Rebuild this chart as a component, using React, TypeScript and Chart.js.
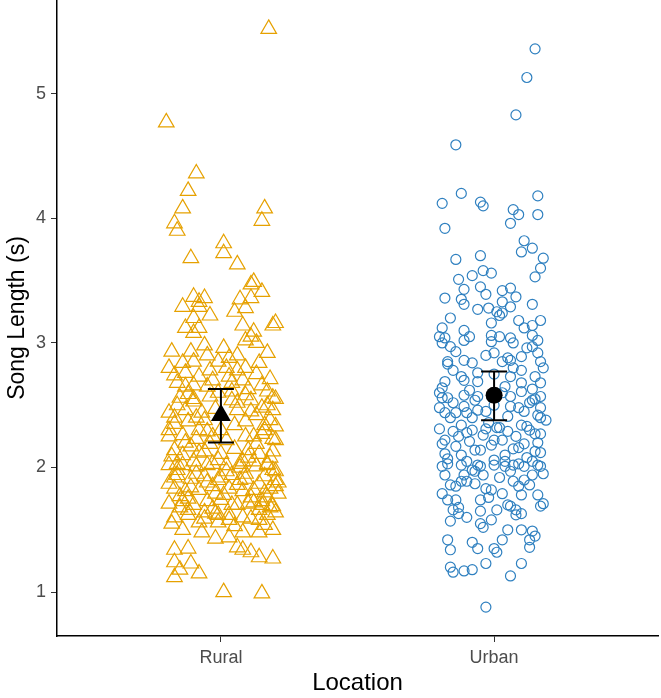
import { useEffect, useRef } from "react";
import { Chart, registerables } from "chart.js";

Chart.register(...registerables);

// Groups along the x axis
const categories = ["Rural", "Urban"];
const yTicks = [1, 2, 3, 4, 5];

// Rural song lengths (s) and their horizontal jitter offsets
const ruralSong = [
  5.52, 4.77, 4.36, 4.22, 4.08, 4.08, 3.98, 3.96, 3.9, 3.8, 3.72, 3.68, 3.63, 3.49, 3.47, 3.41, 3.37, 3.36, 3.33, 3.35,
  3.36, 3.29, 3.29, 3.28, 3.25, 3.22, 3.2, 3.16, 3.14, 3.12, 3.12, 3.14, 3.09, 3.08, 3.05, 3.02, 3.0,
  2.93, 2.93, 2.9, 2.96, 2.88, 2.9, 2.92,
  2.84, 2.85, 2.85, 2.78, 2.8,
  2.74, 2.76, 2.73, 2.7, 2.73, 2.7,
  2.68, 2.66, 2.65, 2.61, 2.66, 2.61,
  2.56, 2.53, 2.57, 2.54, 2.54, 2.56,
  2.44, 2.46, 2.44, 2.46, 2.45, 2.48, 2.46,
  2.35, 2.37, 2.38, 2.34, 2.37, 2.34, 2.33,
  2.25, 2.26, 2.23, 2.25, 2.22, 2.25, 2.27, 2.23,
  2.14, 2.17, 2.13, 2.11, 2.15, 2.14, 2.11,
  2.03, 2.05, 2.02, 2.06, 2.03, 2.05, 2.02,
  2.02, 2.01, 2.03, 2.02, 2.05, 2.01, 2.03,
  1.94, 1.91, 1.93, 1.9, 1.94, 1.91, 1.93, 1.9,
  1.83, 1.81, 1.82, 1.79, 1.83, 1.81, 1.82, 1.83, 1.79,
  1.71, 1.73, 1.7, 1.73, 1.74, 1.7, 1.71, 1.73, 1.69,
  1.6, 1.62, 1.59, 1.63, 1.58, 1.6, 1.59, 1.62,
  1.5, 1.56, 1.56, 1.48, 1.43, 1.44, 1.48, 1.48, 1.5,
  1.35, 1.34, 1.36, 1.34, 1.32, 1.28, 1.27,
  1.24, 1.23, 1.18, 1.15, 1.12, 1.0, 0.99,
  2.09, 2.2, 2.19, 2.19, 2.08, 1.98, 1.97, 1.87, 1.87, 1.88, 1.86, 1.76, 1.77, 1.78, 1.76, 1.66, 1.66, 1.64, 1.67, 1.53,
  1.55, 1.54, 2.4, 2.3, 2.42, 2.5, 2.5, 2.6, 2.63, 2.59, 2.71, 2.8, 2.8, 2.84, 2.98, 2.25, 2.3, 2.13, 2.1, 2.0,
  1.95, 1.97, 1.7, 1.62, 1.85, 1.95, 1.84, 1.7, 2.38, 2.47,
  1.98, 1.88, 1.8, 1.72, 1.68, 1.92, 2.02, 1.75, 1.64, 1.62, 1.9, 1.85, 2.08, 2.12, 2.3, 2.4, 2.55, 2.52, 2.55, 2.65,
  2.68, 2.75, 2.78, 2.58, 2.3, 2.22, 2.29, 1.58, 1.68, 1.92,
];
const ruralJitter = [
  0.175, -0.2, -0.09, -0.12, -0.14, 0.16, 0.15, -0.17, -0.16, 0.01, 0.01, -0.11, 0.06, 0.12, 0.11, 0.15, -0.1, -0.06, -0.08, 0.07,
  0.11, -0.14, -0.08, 0.09, 0.05, -0.04, -0.1, 0.2, 0.19, -0.13, -0.08, 0.08, 0.12, -0.1, 0.11, 0.09, 0.13,
  -0.18, -0.11, -0.05, 0.01, 0.03, 0.06, 0.17,
  -0.14, -0.1, -0.01, 0.06, 0.09,
  -0.17, -0.13, -0.08, -0.03, 0.03, 0.08,
  -0.16, -0.1, -0.05, 0.04, 0.15, 0.17,
  -0.15, -0.1, -0.04, 0.04, 0.11, 0.19,
  -0.19, -0.13, -0.07, 0.06, 0.11, 0.15, 0.19,
  -0.17, -0.12, -0.06, 0.05, 0.09, 0.16, 0.2,
  -0.19, -0.14, -0.09, -0.03, 0.02, 0.09, 0.15, 0.19,
  -0.17, -0.11, -0.06, 0.0, 0.05, 0.1, 0.14,
  -0.16, -0.1, -0.05, -0.01, 0.07, 0.12, 0.17,
  -0.19, -0.09, -0.03, 0.02, 0.08, 0.13, 0.17,
  -0.16, -0.11, -0.06, -0.01, 0.04, 0.09, 0.16, 0.2,
  -0.17, -0.13, -0.08, -0.02, 0.03, 0.08, 0.12, 0.18, 0.21,
  -0.19, -0.14, -0.1, -0.05, 0.0, 0.06, 0.1, 0.15, 0.19,
  -0.17, -0.12, -0.06, -0.02, 0.03, 0.08, 0.11, 0.17,
  -0.14, -0.08, -0.01, -0.07, -0.02, 0.03, 0.08, 0.14, 0.19,
  -0.12, -0.17, 0.06, 0.08, 0.11, 0.14, 0.19,
  -0.17, -0.11, -0.15, -0.08, -0.17, 0.01, 0.15,
  -0.18, -0.13, -0.04, 0.13, 0.18, -0.16, 0.2, 0.14, -0.19, -0.05, 0.06, 0.17, -0.15, 0.01, 0.11, -0.12, 0.14, 0.2, -0.03, 0.05,
  -0.18, 0.16, -0.09, 0.0, 0.13, 0.17, -0.16, -0.01, 0.1, -0.12, 0.18, -0.19, 0.02, 0.14, -0.06, 0.12, -0.08, 0.19, -0.14, 0.07,
  -0.09, 0.02, 0.15, -0.01, 0.2, 0.09, -0.11, 0.04, 0.18, -0.02,
  0.19, 0.21, 0.16, 0.12, 0.18, -0.17, -0.14, -0.12, -0.06, 0.03, 0.07, -0.03, 0.1, -0.08, 0.16, -0.17, -0.1, 0.06, 0.2, -0.13,
  0.04, 0.13, -0.04, 0.09, -0.19, 0.2, -0.05, 0.14, -0.15, 0.0,
];

// Urban song lengths (s) and their horizontal jitter offsets
const urbanSong = [
  5.36, 5.13, 4.83, 4.59, 4.2, 4.18, 4.12, 4.13, 4.1, 4.07, 4.03, 4.03, 3.96, 3.92, 3.82, 3.76, 3.73, 3.7, 3.67, 3.68,
  3.58, 3.56, 3.54, 3.6, 3.51, 3.53, 3.45, 3.43, 3.44, 3.42, 3.39, 3.36, 3.37, 3.35, 3.31, 3.33, 3.29, 3.31, 3.27, 3.25,
  3.24, 3.22, 3.28, 3.2, 3.16, 3.18, 3.18, 3.12, 3.1, 3.12, 3.14, 3.05, 3.04, 3.05, 3.06, 3.05, 3.04, 3.06,
  3.02, 3.01, 3.0, 3.02, 3.0,
  2.85, 2.93, 2.86, 2.84, 2.9, 2.92, 2.85, 2.86, 2.89, 2.92, 2.85,
  2.69, 2.73, 2.76, 2.69, 2.73, 2.78, 2.73, 2.68,
  2.6, 2.56, 2.58, 2.54, 2.57, 2.61, 2.54, 2.57,
  2.48, 2.44, 2.4, 2.49, 2.44, 2.46, 2.49, 2.45, 2.42, 2.48,
  2.31, 2.29, 2.34, 2.3, 2.31, 2.32, 2.29, 2.34, 2.3, 2.27,
  2.19, 2.17, 2.21, 2.14, 2.18, 2.22, 2.15, 2.19, 2.13, 2.11, 2.1,
  2.03, 2.05, 2.02, 2.06, 2.01, 2.03, 2.05, 2.01,
  2.01, 1.94, 2.02, 1.94, 2.01, 1.94, 2.02, 2.05, 1.97, 2.01, 1.94, 2.02,
  1.85, 1.89, 1.87, 1.83, 1.82, 1.79, 1.89, 1.85, 1.79, 1.74, 1.74, 1.74, 1.78, 1.78, 1.69, 1.71,
  1.66, 1.63, 1.6, 1.57, 1.65, 1.66, 1.58, 1.69, 1.66, 1.63,
  1.52, 1.5, 1.5, 1.49, 1.45, 1.42, 1.4, 1.42, 1.42,
  1.34, 1.35, 1.35, 1.32, 1.36,
  1.2, 1.16, 1.17, 1.18, 1.23, 1.23, 1.13, 0.88,
  2.52, 2.5, 2.52, 2.4, 2.41, 2.38, 2.25, 2.25, 2.27, 2.26, 2.07, 2.1, 2.08, 1.97, 1.95, 1.89, 1.9, 1.92, 2.64, 2.65,
  2.63, 2.62, 2.8, 2.78, 2.8, 2.96, 2.97, 2.4, 2.36, 2.16,
  2.22, 2.28, 2.22, 2.33, 2.2, 2.44, 2.45, 2.48, 2.55, 2.57, 2.56, 2.6, 2.7, 2.68, 2.75, 2.83, 2.88, 2.97, 1.98, 2.02,
  1.86, 1.86, 1.76, 1.7, 1.68, 2.12, 2.14, 2.32, 1.62, 1.55,
];
const urbanJitter = [
  0.15, 0.12, 0.08, -0.14, -0.12, 0.16, -0.19, -0.05, -0.04, 0.07, 0.09, 0.16, 0.06, -0.18, 0.11, 0.14, 0.1, -0.05, -0.14, 0.18,
  -0.04, -0.01, -0.08, 0.17, -0.13, 0.15, -0.05, -0.11, 0.06, 0.03, -0.03, -0.18, 0.08, -0.12, -0.11, 0.03, 0.06, 0.14, -0.06, 0.01,
  0.03, 0.02, -0.02, -0.16, -0.01, 0.09, 0.17, -0.19, -0.11, 0.11, 0.14, -0.2, -0.18, -0.09, -0.01, 0.02, 0.06, 0.14,
  -0.11, -0.01, 0.07, 0.16, -0.19,
  -0.17, -0.14, -0.11, -0.08, -0.03, 0.0, 0.03, 0.06, 0.1, 0.16, 0.17,
  -0.18, -0.12, -0.06, -0.06, 0.06, 0.1, 0.15, 0.17,
  -0.2, -0.17, -0.11, -0.07, 0.06, 0.1, 0.14, 0.17,
  -0.2, -0.18, -0.16, -0.11, -0.1, -0.06, 0.06, 0.11, 0.16, 0.17,
  -0.2, -0.15, -0.12, -0.08, -0.03, 0.01, 0.05, 0.1, 0.13, 0.17,
  -0.19, -0.14, -0.09, -0.05, -0.01, 0.03, 0.07, 0.11, 0.15, -0.18, -0.12,
  -0.17, -0.1, -0.06, 0.0, 0.04, 0.09, 0.14, 0.17,
  -0.19, -0.18, -0.12, -0.11, -0.05, -0.04, 0.0, 0.04, 0.06, 0.11, 0.14, 0.16,
  -0.14, -0.1, -0.07, -0.03, -0.01, 0.03, 0.07, 0.09, -0.19, -0.17, -0.14, -0.05, 0.1, 0.16, 0.17, 0.18,
  -0.15, -0.13, -0.1, -0.16, -0.05, 0.01, -0.01, 0.06, 0.08, 0.1,
  -0.04, 0.05, 0.1, 0.14, 0.15, -0.17, -0.08, 0.03, 0.13,
  -0.16, -0.06, 0.0, 0.01, 0.13,
  -0.16, -0.15, -0.11, -0.08, -0.03, 0.1, 0.06, -0.03,
  -0.15, 0.0, 0.13, -0.08, 0.05, 0.19, -0.13, 0.08, 0.15, -0.04, -0.17, 0.04, 0.12, -0.07, 0.18, -0.12, 0.11, 0.02, -0.19, 0.04,
  0.14, -0.09, 0.18, -0.15, 0.07, 0.12, -0.16, 0.17, -0.02, 0.09,
  -0.18, -0.1, 0.0, 0.12, 0.16, -0.14, -0.03, 0.09, 0.15, -0.06, -0.19, 0.03, -0.11, 0.1, 0.0, -0.17, 0.05, 0.14, -0.08, 0.07,
  -0.16, 0.13, -0.02, 0.05, -0.13, 0.17, -0.07, 0.02, 0.08, -0.05,
];

// Group means with their error-bar limits
const groupMeans = [2.42, 2.58];
const groupLower = [2.2, 2.38];
const groupUpper = [2.63, 2.77];

const ruralColor = "#E6A100";
const urbanColor = "#2F80C0";
const fontFamily = 'Arial, "Liberation Sans", sans-serif';

// Vertical error bars with caps, drawn on top of the point clouds
const errorBarPlugin = {
  id: "meanErrorBars",
  afterDatasetsDraw(chart: any) {
    const { ctx, scales } = chart;
    const x = scales.x;
    const y = scales.y;
    ctx.save();
    ctx.strokeStyle = "#000";
    ctx.lineWidth = 2;
    categories.forEach((_, i) => {
      const px = x.getPixelForValue(i + 1);
      const top = y.getPixelForValue(groupUpper[i]);
      const bottom = y.getPixelForValue(groupLower[i]);
      ctx.beginPath();
      ctx.moveTo(px, top);
      ctx.lineTo(px, bottom);
      ctx.moveTo(px - 13, top);
      ctx.lineTo(px + 13, top);
      ctx.moveTo(px - 13, bottom);
      ctx.lineTo(px + 13, bottom);
      ctx.stroke();
    });
    ctx.restore();
  },
};

export default function App() {
  const canvasRef = useRef<HTMLCanvasElement | null>(null);

  useEffect(() => {
    if (!canvasRef.current) return;
    const chart = new Chart(canvasRef.current, {
      type: "scatter",
      data: {
        datasets: [
          {
            label: "Mean",
            data: categories.map((_, i) => ({ x: i + 1, y: groupMeans[i] })),
            pointStyle: ["triangle", "circle"] as any,
            pointRadius: [11.5, 8.5] as any,
            pointBackgroundColor: "#000",
            pointBorderColor: "#000",
            pointBorderWidth: 0,
            order: 0,
          },
          {
            label: categories[0],
            data: ruralSong.map((v, i) => ({ x: 1 + ruralJitter[i], y: v })),
            pointStyle: "triangle",
            pointRadius: 9,
            pointBorderColor: ruralColor,
            borderColor: ruralColor,
            pointBackgroundColor: "rgba(0,0,0,0)",
            backgroundColor: "rgba(0,0,0,0)",
            pointBorderWidth: 1.2,
            order: 2,
          },
          {
            label: categories[1],
            data: urbanSong.map((v, i) => ({ x: 2 + urbanJitter[i], y: v })),
            pointStyle: "circle",
            pointRadius: 5,
            pointBorderColor: urbanColor,
            borderColor: urbanColor,
            pointBackgroundColor: "rgba(0,0,0,0)",
            backgroundColor: "rgba(0,0,0,0)",
            pointBorderWidth: 1.2,
            order: 2,
          },
        ],
      },
      options: {
        animation: false,
        responsive: true,
        maintainAspectRatio: false,
        layout: { autoPadding: false, padding: { left: 0, right: 3, top: 0, bottom: 0 } },
        plugins: {
          legend: { display: false },
          tooltip: { enabled: false },
        },
        scales: {
          x: {
            type: "linear",
            min: 0.4,
            max: 2.6,
            afterBuildTicks: (s: any) => {
              s.ticks = categories.map((_, i) => ({ value: i + 1 }));
            },
            afterFit: (s: any) => {
              s.height = 62;
              s.paddingLeft = 0;
              s.paddingRight = 0;
            },
            ticks: {
              autoSkip: false,
              maxRotation: 0,
              padding: 5,
              color: "#4D4D4D",
              font: { family: fontFamily, size: 18 },
              callback: (v: any) => categories[Math.round(Number(v)) - 1] ?? "",
            },
            grid: {
              display: true,
              drawOnChartArea: false,
              drawTicks: true,
              tickLength: 6,
              color: "#333333",
              lineWidth: 1,
            },
            border: { display: true, color: "#000", width: 1.5 },
            title: {
              display: true,
              text: "Location",
              color: "#000",
              font: { family: fontFamily, size: 24 },
              padding: { top: 0, bottom: 0 },
            },
          },
          y: {
            type: "linear",
            min: 0.648,
            max: 5.752,
            afterBuildTicks: (s: any) => {
              s.ticks = yTicks.map((v) => ({ value: v }));
            },
            afterFit: (s: any) => {
              s.width = 57;
              s.paddingTop = 0;
              s.paddingBottom = 0;
            },
            ticks: {
              padding: 5,
              color: "#4D4D4D",
              font: { family: fontFamily, size: 18 },
              callback: (v: any) => String(v),
            },
            grid: {
              display: true,
              drawOnChartArea: false,
              drawTicks: true,
              tickLength: 6,
              color: "#333333",
              lineWidth: 1,
            },
            border: { display: true, color: "#000", width: 1.5 },
            title: {
              display: true,
              text: "Song Length (s)",
              color: "#000",
              font: { family: fontFamily, size: 23 },
              padding: { top: 4, bottom: 0 },
            },
          },
        },
      },
      plugins: [errorBarPlugin],
    });
    return () => chart.destroy();
  }, []);

  return (
    <div style={{ position: "fixed", left: 0, top: 0, width: 661, height: 698, background: "#fff" }}>
      <canvas ref={canvasRef} />
    </div>
  );
}
